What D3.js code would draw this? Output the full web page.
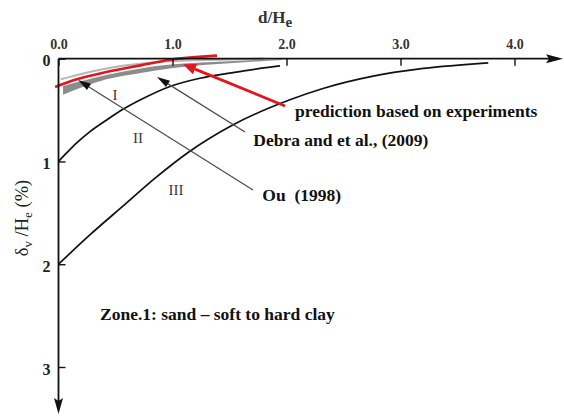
<!DOCTYPE html>
<html>
<head>
<meta charset="utf-8">
<script src="https://cdn.jsdelivr.net/npm/d3@7"></script>
<style>
  body { margin: 0; background: white; }
  text { font-family: "Liberation Serif", "Times New Roman", serif; }
</style>
</head>
<body>
<script>
// values (d/He vs settlement %)
const xTicks = [0, 1, 2, 3, 4];
const yTicks = [0, 1, 2, 3];

// Peck boundary zone I / II
const boundaryI_d = [0, 0.072, 0.16, 0.276, 0.423, 0.554, 0.715, 0.978, 1.241, 1.531, 1.768, 1.943];
const boundaryI_s = [1.0, 0.917, 0.82, 0.71, 0.596, 0.5, 0.402, 0.27, 0.19, 0.135, 0.095, 0.07];
const boundaryII_d = [0, 0.28, 0.57, 0.85, 1.14, 1.52, 2.03, 2.32, 2.76, 3.2, 3.77];
const boundaryII_s = [2.0, 1.71, 1.43, 1.16, 0.91, 0.65, 0.4, 0.29, 0.17, 0.095, 0.04];

// Debra et al. (2009) grey band
const debra_d = [0.04, 0.42, 0.72, 0.96, 1.3, 1.7, 1.96];
const debraUpper_s = [0.265, 0.158, 0.095, 0.06, 0.035, 0.015, 0.005];
const debraLower_s = [0.35, 0.2, 0.138, 0.097, 0.06, 0.03, 0.012];
const debraLight_d = [0.02, 0.42, 0.8, 1.2, 1.8];
const debraLight_s = [0.2, 0.095, 0.04, 0.015, 0.0];

// prediction based on experiments
const predict_d = [-0.03, 0.13, 0.42, 0.72, 0.98, 1.39];
const predict_s = [0.275, 0.21, 0.13, 0.065, 0.01, -0.03];

const zoneLabels = ["I", "II", "III"];

const svg = d3.select("body")
    .append("svg")
    .attr("width", 564)
    .attr("height", 416);

svg.append("rect").attr("width", 564).attr("height", 416).attr("fill", "white");

const x = d3.scaleLinear().domain([0, 4]).range([58.5, 514.5]);
const y = d3.scaleLinear().domain([0, 3]).range([58.7, 367]);

const zip = (a, b) => a.map((v, i) => [v, b[i]]);

const line = d3.line()
    .x(d => x(d[0]))
    .y(d => y(d[1]))
    .curve(d3.curveMonotoneX);

// grey band
const band = d3.area()
    .x(d => x(d[0]))
    .y0(d => y(d[1]))
    .y1(d => y(d[2]))
    .curve(d3.curveMonotoneX);

svg.append("path")
    .attr("d", line(zip(debraLight_d, debraLight_s)))
    .attr("fill", "none")
    .attr("stroke", "#b8b8b8")
    .attr("stroke-width", 2.2);

svg.append("path")
    .attr("d", band(debra_d.map((d, i) => [d, debraUpper_s[i], debraLower_s[i]])))
    .attr("fill", "#8c8c8c");

// boundaries
[zip(boundaryI_d, boundaryI_s), zip(boundaryII_d, boundaryII_s)].forEach(pts => {
    svg.append("path")
        .attr("d", line(pts))
        .attr("fill", "none")
        .attr("stroke", "#111")
        .attr("stroke-width", 1.7);
});

svg.append("path")
    .attr("d", line(zip(predict_d, predict_s)))
    .attr("fill", "none")
    .attr("stroke", "#e3161d")
    .attr("stroke-width", 2.6);

// x axis (top)
const xAxis = d3.axisTop(x)
    .tickValues(xTicks)
    .tickSize(-7)
    .tickPadding(10)
    .tickFormat(d3.format(".1f"));

const gx = svg.append("g").attr("transform", `translate(0,${y(0)})`).call(xAxis);
gx.select(".domain").remove();
gx.selectAll(".tick line").attr("stroke", "#111").attr("stroke-width", 1.4);
gx.selectAll(".tick text")
    .attr("font-family", "Liberation Sans, Arial, sans-serif")
    .attr("font-weight", "bold")
    .attr("font-size", 14)
    .attr("fill", "#333");

// y axis (left, downward)
const yAxis = d3.axisLeft(y)
    .tickValues(yTicks)
    .tickSize(-7)
    .tickPadding(8)
    .tickFormat(d3.format("d"));

const gy = svg.append("g").attr("transform", `translate(${x(0)},0)`).call(yAxis);
gy.select(".domain").remove();
gy.selectAll(".tick line").attr("stroke", "#111").attr("stroke-width", 1.4);
gy.selectAll(".tick text")
    .attr("font-family", "Liberation Serif, serif")
    .attr("font-weight", "bold")
    .attr("font-size", 16)
    .attr("fill", "#222")
    .attr("dy", "0.45em");

// axis lines with arrows
svg.append("line")
    .attr("x1", x(0)).attr("y1", y(0))
    .attr("x2", 550).attr("y2", y(0))
    .attr("stroke", "#111").attr("stroke-width", 1.8);
svg.append("path")
    .attr("d", `M563,${y(0)} L546,${y(0) - 4.5} L549,${y(0)} L546,${y(0) + 4.5} Z`)
    .attr("fill", "#111");

svg.append("line")
    .attr("x1", x(0)).attr("y1", y(0))
    .attr("x2", x(0)).attr("y2", 402)
    .attr("stroke", "#111").attr("stroke-width", 1.8);
svg.append("path")
    .attr("d", `M${x(0)},414 L${x(0) - 4.5},398 L${x(0)},401 L${x(0) + 4.5},398 Z`)
    .attr("fill", "#111");

// leader arrows
function arrow(d1, s1, d2, s2, color, headColor, width, headLen, headW) {
    const x1 = x(d1), y1 = y(s1), x2 = x(d2), y2 = y(s2);
    const ang = Math.atan2(y2 - y1, x2 - x1);
    const bx = x2 - headLen * Math.cos(ang), by = y2 - headLen * Math.sin(ang);
    svg.append("line")
        .attr("x1", x1).attr("y1", y1).attr("x2", bx).attr("y2", by)
        .attr("stroke", color).attr("stroke-width", width);
    const px = -Math.sin(ang) * headW, py = Math.cos(ang) * headW;
    svg.append("path")
        .attr("d", `M${x2},${y2} L${bx + px},${by + py} L${bx - px},${by - py} Z`)
        .attr("fill", headColor);
}

arrow(1.706, 1.277, 0.171, 0.207, "#4a4a4a", "#111", 1.2, 13, 3.8);
arrow(1.636, 0.713, 0.864, 0.178, "#4a4a4a", "#111", 1.2, 13, 3.8);
arrow(1.987, 0.46, 1.092, 0.054, "#e3161d", "#e3161d", 2.8, 13, 5.5);

// annotations
const notes = [
    { t: "prediction based on experiments", d: 2.075, s: 0.567 },
    { t: "Debra and et al., (2009)", d: 1.709, s: 0.849 },
    { t: "Ou  (1998)", d: 1.788, s: 1.384 }
];
notes.forEach(n => {
    svg.append("text")
        .attr("x", x(n.d)).attr("y", y(n.s))
        .attr("font-weight", "bold")
        .attr("font-size", 17.5)
        .attr("fill", "#111")
        .style("white-space", "pre")
        .text(n.t);
});

svg.append("text")
    .attr("x", x(0.364)).attr("y", y(2.54))
    .attr("font-weight", "bold")
    .attr("font-size", 17.5)
    .attr("fill", "#111")
    .text("Zone.1: sand \u2013 soft to hard clay");

const zonePos = [[0.496, 0.353], [0.697, 0.771], [1.031, 1.277]];
zoneLabels.forEach((z, i) => {
    svg.append("text")
        .attr("x", x(zonePos[i][0])).attr("y", y(zonePos[i][1]))
        .attr("dy", "0.35em")
        .attr("text-anchor", "middle")
        .attr("font-size", 15)
        .attr("fill", "#3a3a3a")
        .text(z);
});

// axis titles
const title = svg.append("text")
    .attr("x", 258).attr("y", 23)
    .attr("font-size", 17)
    .attr("font-weight", "bold")
    .attr("fill", "#333");
title.append("tspan").text("d/H");
title.append("tspan").attr("font-size", 15).attr("dy", 4).text("e");

const ylab = svg.append("text")
    .attr("transform", "translate(28,218) rotate(-90)")
    .attr("text-anchor", "middle")
    .attr("font-size", 18.5)
    .attr("fill", "#222");
ylab.append("tspan").text("\u03b4");
ylab.append("tspan").attr("font-size", 13).attr("dy", 4).text("v");
ylab.append("tspan").attr("dy", -4).text(" /H");
ylab.append("tspan").attr("font-size", 13).attr("dy", 4).text("e");
ylab.append("tspan").attr("dy", -4).text(" (%)");
</script>
</body>
</html>
